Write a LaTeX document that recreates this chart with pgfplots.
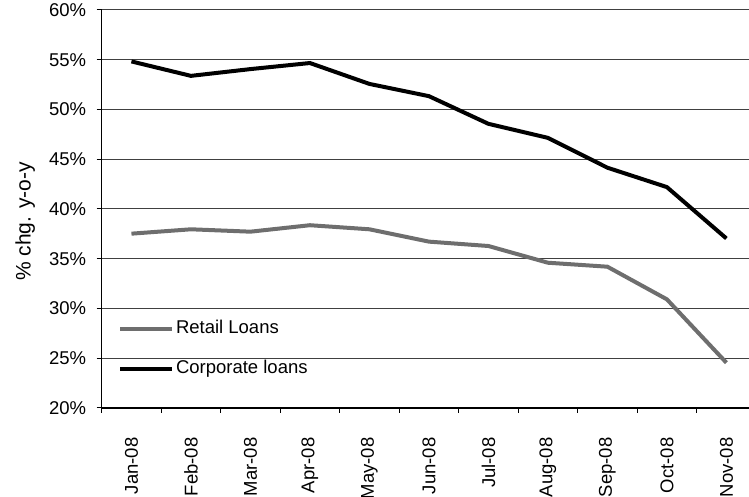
\documentclass[border=0pt]{standalone}
\usepackage{pgfplots}
\pgfplotsset{compat=1.18}
\usepackage{fontspec}
\setmainfont{Liberation Sans}
\definecolor{retail}{RGB}{110,110,110}
\begin{document}
\fontsize{9.25}{11}\selectfont
\begin{tikzpicture}
\path[use as bounding box] (-50.85pt,-44.5pt) rectangle (323.65pt,204pt);
\begin{axis}[
  at={(0pt,0pt)}, anchor=south west,
  scale only axis, width=323.65pt, height=199pt,
  xmin=-0.5, xmax=10.38, ymin=20, ymax=60,
  axis lines=left,
  axis line style={-, black, line width=0.6pt},
  ytick={20,25,...,60},
  yticklabels={20\%,25\%,30\%,35\%,40\%,45\%,50\%,55\%,60\%},
  xtick={0,...,10},
  xticklabels={Jan-08,Feb-08,Mar-08,Apr-08,May-08,Jun-08,Jul-08,Aug-08,Sep-08,Oct-08,Nov-08},
  minor xtick={-0.5,0.5,...,9.5},
  tick align=outside,
  major tick length=2.5pt,
  minor tick length=2.5pt,
  major x tick style={draw=none},
  minor x tick style={black, line width=0.5pt},
  major y tick style={black, line width=0.5pt},
  ymajorgrids,
  grid style={black!75, line width=0.5pt},
  ticklabel style={font=\fontsize{9.25}{11}\selectfont},
  yticklabel shift=2pt,
  xticklabel style={rotate=90, anchor=east},
  xticklabel shift=9pt,
  ylabel={\% chg. y-o-y},
  every axis y label/.style={at={(rel axis cs:-0.118,0.4686)}, rotate=90, anchor=center,
    font=\fontsize{10.5}{12}\selectfont},
  legend cell align=left,
  legend image code/.code={\draw[#1] (0pt,0pt) -- (26pt,0pt);},
  legend style={draw=none, fill=none, inner sep=0pt, outer sep=0pt, row sep=9pt,
    nodes={inner sep=1pt, text height=7pt, text depth=2pt},
    font=\fontsize{9.25}{11}\selectfont,
    at={(rel axis cs:0.0252,0.227)}, anchor=north west},
]
\addplot[retail, line width=2pt] coordinates {
 (0,37.52) (1,37.96) (2,37.72) (3,38.37) (4,37.96) (5,36.72) (6,36.28) (7,34.6) (8,34.2) (9,30.92) (10,24.55)};
\addlegendentry{Retail Loans}
\addplot[black, line width=2pt] coordinates {
 (0,54.83) (1,53.38) (2,54.06) (3,54.67) (4,52.57) (5,51.34) (6,48.56) (7,47.15) (8,44.15) (9,42.2) (10,37.04)};
\addlegendentry{Corporate loans}
\end{axis}
\end{tikzpicture}
\end{document}
